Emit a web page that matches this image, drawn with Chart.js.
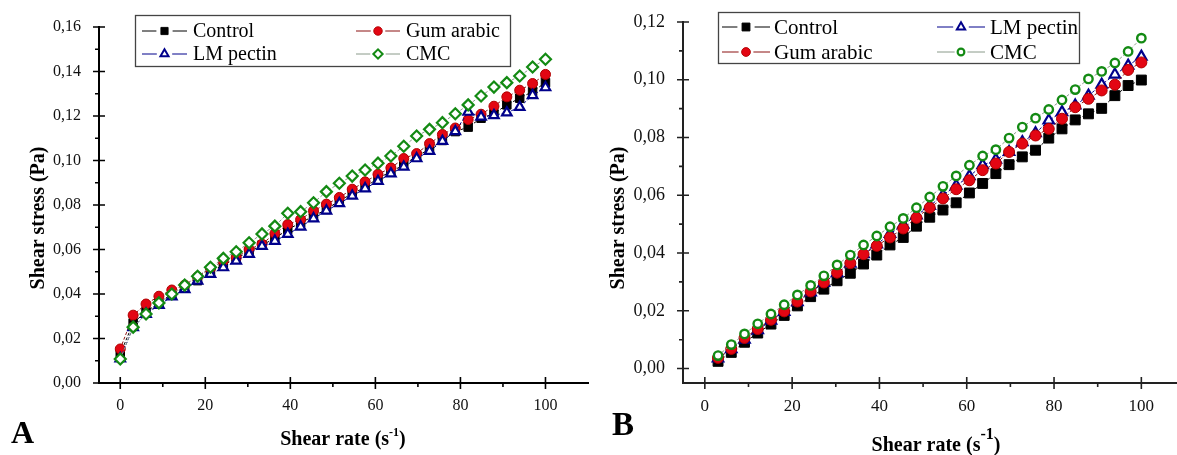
<!DOCTYPE html>
<html>
<head>
<meta charset="utf-8">
<script src="https://cdn.jsdelivr.net/npm/chart.js@4.4.1/dist/chart.umd.min.js"></script>
<style>
  html, body { margin: 0; padding: 0; background: #fff; }
  #wrap { position: relative; width: 1177px; height: 455px; overflow: hidden; }
  canvas { position: absolute; top: 0; }
  #chartA { left: 0; }
  #chartB { left: 590px; }
</style>
</head>
<body>
<div id="wrap">
  <canvas id="chartA" width="600" height="455"></canvas>
  <canvas id="chartB" width="615" height="455"></canvas>
</div>
<script>
// Panel A: shear rate (s-1) vs shear stress (Pa)
const shearRateA = [0, 3.03, 6.06, 9.09, 12.12, 15.15, 18.18, 21.21, 24.24, 27.27, 30.3, 33.33,
    36.36, 39.39, 42.42, 45.45, 48.48, 51.52, 54.55, 57.58, 60.61, 63.64, 66.67, 69.7, 72.73,
    75.76, 78.79, 81.82, 84.85, 87.88, 90.91, 93.94, 96.97, 100];
const controlA = [0.013, 0.027, 0.032, 0.036, 0.040, 0.043, 0.046, 0.050, 0.053, 0.056, 0.059,
    0.062, 0.065, 0.069, 0.072, 0.075, 0.078, 0.082, 0.085, 0.088, 0.092, 0.095, 0.098, 0.102,
    0.105, 0.109, 0.113, 0.115, 0.119, 0.121, 0.125, 0.128, 0.131, 0.135];
const gumArabicA = [0.0153, 0.0305, 0.0355, 0.039, 0.0418, 0.044, 0.0477, 0.0515, 0.0549, 0.0564,
    0.0601, 0.0624, 0.0672, 0.0712, 0.0735, 0.0774, 0.0804, 0.0834, 0.0871, 0.0904, 0.0938, 0.0967,
    0.1009, 0.1031, 0.1076, 0.1117, 0.1146, 0.1184, 0.1208, 0.1244, 0.1286, 0.1316, 0.1346, 0.1387];
const lmPectinA = [0.011, 0.025, 0.031, 0.035, 0.0388, 0.0421, 0.0459, 0.0489, 0.0519, 0.0549,
    0.0579, 0.0615, 0.0638, 0.0669, 0.0702, 0.0739, 0.0774, 0.0807, 0.0841, 0.0874, 0.0907, 0.0941,
    0.0971, 0.1009, 0.1042, 0.1087, 0.1131, 0.1218, 0.1196, 0.1203, 0.1215, 0.124, 0.1293, 0.1328];
const cmcA = [0.0108, 0.0251, 0.031, 0.036, 0.040, 0.044, 0.048, 0.052, 0.056, 0.059, 0.063,
    0.067, 0.0705, 0.0763, 0.077, 0.081, 0.086, 0.0898, 0.093, 0.0957, 0.0988, 0.102, 0.1064,
    0.111, 0.114, 0.117, 0.121, 0.125, 0.129, 0.133, 0.135, 0.138, 0.142, 0.1455];

// Panel B
const shearRateB = [3.03, 6.06, 9.09, 12.12, 15.15, 18.18, 21.21, 24.24, 27.27, 30.3, 33.33,
    36.36, 39.39, 42.42, 45.45, 48.48, 51.52, 54.55, 57.58, 60.61, 63.64, 66.67, 69.7, 72.73,
    75.76, 78.79, 81.82, 84.85, 87.88, 90.91, 93.94, 96.97, 100];
const controlB = [0.0025, 0.0056, 0.0091, 0.0123, 0.0154, 0.0184, 0.0217, 0.0249, 0.0275, 0.0304,
    0.0330, 0.0362, 0.0393, 0.0428, 0.0454, 0.0493, 0.0524, 0.0549, 0.0574, 0.0608, 0.0641, 0.0675,
    0.0706, 0.0733, 0.0756, 0.0798, 0.0830, 0.0861, 0.0882, 0.0901, 0.0945, 0.0980, 0.0999];
const lmPectinB = [0.0035, 0.0067, 0.0100, 0.0133, 0.0166, 0.0196, 0.0230, 0.0264, 0.0297, 0.0330,
    0.0363, 0.0396, 0.0430, 0.0466, 0.0498, 0.0530, 0.0563, 0.0600, 0.0633, 0.0666, 0.0704, 0.0723,
    0.0750, 0.0784, 0.0815, 0.0859, 0.0888, 0.0911, 0.0945, 0.0983, 0.1018, 0.1049, 0.1080];
const gumArabicB = [0.0037, 0.0068, 0.0106, 0.0137, 0.0169, 0.0198, 0.0232, 0.0267, 0.0298, 0.0332,
    0.0365, 0.0396, 0.0425, 0.0454, 0.0485, 0.0522, 0.0557, 0.0589, 0.0621, 0.0652, 0.0687, 0.0710,
    0.0750, 0.0779, 0.0807, 0.0830, 0.0865, 0.0905, 0.0934, 0.0963, 0.0983, 0.1034, 0.1060];
const cmcB = [0.0045, 0.0083, 0.0120, 0.0155, 0.0189, 0.0221, 0.0255, 0.0288, 0.0321, 0.0359,
    0.0393, 0.0428, 0.0459, 0.0491, 0.0520, 0.0557, 0.0594, 0.0631, 0.0667, 0.0704, 0.0736, 0.0758,
    0.0798, 0.0836, 0.0867, 0.0897, 0.0930, 0.0966, 0.1003, 0.1029, 0.1058, 0.1098, 0.1144];

// axis ticks
const xTicks = [0, 20, 40, 60, 80, 100];
const xMinorTicks = [10, 30, 50, 70, 90];
const yTicksA = [0, 0.02, 0.04, 0.06, 0.08, 0.10, 0.12, 0.14, 0.16];
const yMinorA = [0.01, 0.03, 0.05, 0.07, 0.09, 0.11, 0.13, 0.15];
const yTicksB = [0, 0.02, 0.04, 0.06, 0.08, 0.10, 0.12];
const yMinorB = [0.01, 0.03, 0.05, 0.07, 0.09, 0.11];

const serif = "'Liberation Serif', 'Times New Roman', serif";
Chart.defaults.font.family = serif;
Chart.defaults.color = '#000';

function toPoints(xs, ys) {
    return xs.map((x, i) => ({ x: x, y: ys[i] }));
}

function commaLabel(v) {
    return v.toFixed(2).replace('.', ',');
}

function makeDataset(label, xs, ys, s) {
    return {
        label: label,
        data: toPoints(xs, ys),
        showLine: true,
        borderColor: s.line,
        borderWidth: 1,
        borderDash: [3, 2],
        pointStyle: s.shape,
        pointRadius: s.r,
        pointBackgroundColor: s.fill,
        pointBorderColor: s.edge,
        pointBorderWidth: s.bw,
        order: s.order
    };
}

// marker helper for the legend box
function drawMarker(ctx, shape, r, x, y) {
    ctx.beginPath();
    if (shape === 'rect') {
        const h = r * Math.SQRT1_2;
        ctx.rect(x - h, y - h, 2 * h, 2 * h);
    } else if (shape === 'circle') {
        ctx.arc(x, y, r, 0, Math.PI * 2);
    } else if (shape === 'triangle') {
        ctx.moveTo(x, y - r);
        ctx.lineTo(x + r * 0.866, y + r / 2);
        ctx.lineTo(x - r * 0.866, y + r / 2);
        ctx.closePath();
    } else if (shape === 'rectRot') {
        ctx.moveTo(x - r, y);
        ctx.lineTo(x, y - r);
        ctx.lineTo(x + r, y);
        ctx.lineTo(x, y + r);
        ctx.closePath();
    }
    ctx.fill();
    ctx.stroke();
}

const boxLegend = {
    id: 'boxLegend',
    afterDraw(chart, args, o) {
        const ctx = chart.ctx;
        ctx.save();
        ctx.strokeStyle = '#444';
        ctx.lineWidth = 1.3;
        ctx.strokeRect(o.box[0] + 0.5, o.box[1] + 0.5, o.box[2], o.box[3]);
        o.items.forEach(it => {
            const ds = chart.data.datasets[it.index];
            const mid = (it.x0 + it.x1) / 2;
            const r = ds.pointRadius * o.scale;
            ctx.setLineDash([]);
            ctx.strokeStyle = ds.borderColor;
            ctx.lineWidth = 1;
            ctx.beginPath();
            ctx.moveTo(it.x0, it.y);
            ctx.lineTo(mid - r - 3, it.y);
            ctx.moveTo(mid + r + 3, it.y);
            ctx.lineTo(it.x1, it.y);
            ctx.stroke();
            ctx.fillStyle = ds.pointBackgroundColor;
            ctx.strokeStyle = ds.pointBorderColor;
            ctx.lineWidth = ds.pointBorderWidth * 0.9;
            drawMarker(ctx, ds.pointStyle, r, mid, it.y);
            ctx.fillStyle = '#000';
            ctx.font = o.font;
            ctx.textBaseline = 'middle';
            ctx.textAlign = 'left';
            ctx.fillText(ds.label, it.tx, it.y + 1);
        });
        ctx.restore();
    }
};

const axisMarks = {
    id: 'axisMarks',
    afterDraw(chart, args, o) {
        const ctx = chart.ctx;
        const area = chart.chartArea;
        const sx = chart.scales.x, sy = chart.scales.y;
        ctx.save();
        ctx.strokeStyle = o.color;
        ctx.lineWidth = 1.6;
        ctx.beginPath();
        sx.ticks.forEach(t => {
            const px = sx.getPixelForValue(t.value);
            ctx.moveTo(px, area.bottom - o.major);
            ctx.lineTo(px, area.bottom + o.major);
        });
        o.xMinor.forEach(v => {
            const px = sx.getPixelForValue(v);
            ctx.moveTo(px, area.bottom);
            ctx.lineTo(px, area.bottom + o.minor);
        });
        sy.ticks.forEach(t => {
            const py = sy.getPixelForValue(t.value);
            ctx.moveTo(area.left - o.major, py);
            ctx.lineTo(area.left + o.major, py);
        });
        o.yMinor.forEach(v => {
            const py = sy.getPixelForValue(v);
            ctx.moveTo(area.left - o.minor, py);
            ctx.lineTo(area.left, py);
        });
        ctx.stroke();
        ctx.restore();
    }
};

const figureText = {
    id: 'figureText',
    afterDraw(chart, args, o) {
        const ctx = chart.ctx;
        ctx.save();
        ctx.fillStyle = '#000';
        // y title
        ctx.save();
        ctx.font = o.titleFont;
        ctx.translate(o.yTitle.x, o.yTitle.y);
        ctx.rotate(-Math.PI / 2);
        ctx.textAlign = 'center';
        ctx.textBaseline = 'middle';
        ctx.fillText(o.yTitle.text, 0, 0);
        ctx.restore();
        // x title with superscript
        const t = o.xTitle;
        ctx.textBaseline = 'alphabetic';
        ctx.textAlign = 'left';
        ctx.font = o.titleFont;
        const w1 = ctx.measureText(t.text).width;
        const w3 = ctx.measureText(t.tail).width;
        ctx.font = t.supFont;
        const w2 = ctx.measureText(t.sup).width;
        let x = t.x - (w1 + w2 + w3) / 2;
        ctx.font = o.titleFont;
        ctx.fillText(t.text, x, t.y);
        x += w1;
        ctx.font = t.supFont;
        ctx.fillText(t.sup, x, t.y - t.rise);
        x += w2;
        ctx.font = o.titleFont;
        ctx.fillText(t.tail, x, t.y);
        // panel letter
        ctx.font = o.letter.font;
        ctx.fillText(o.letter.text, o.letter.x, o.letter.y);
        ctx.restore();
    }
};

function makeChart(id, datasets, cfg) {
    return new Chart(document.getElementById(id), {
        type: 'scatter',
        data: { datasets: datasets },
        options: {
            responsive: false,
            animation: false,
            layout: { padding: cfg.padding },
            scales: {
                x: {
                    type: 'linear',
                    min: -5,
                    max: 110,
                    grid: { display: false },
                    border: { display: true, color: cfg.axisColor, width: 2 },
                    afterBuildTicks: s => { s.ticks = xTicks.map(v => ({ value: v })); },
                    afterFit: s => { s.height = cfg.xHeight; },
                    ticks: {
                        autoSkip: false,
                        maxRotation: 0,
                        padding: cfg.xPad,
                        font: { size: cfg.xFont },
                        color: '#111',
                        callback: v => String(v)
                    }
                },
                y: {
                    type: 'linear',
                    min: cfg.yMin,
                    max: cfg.yMax,
                    grid: { display: false },
                    border: { display: true, color: cfg.axisColor, width: 2 },
                    afterBuildTicks: s => { s.ticks = cfg.yTicks.map(v => ({ value: v })); },
                    afterFit: s => { s.width = cfg.yWidth; },
                    ticks: {
                        autoSkip: false,
                        padding: 10,
                        font: { size: cfg.yFont },
                        color: '#111',
                        callback: v => commaLabel(v)
                    }
                }
            },
            plugins: {
                legend: { display: false },
                tooltip: { enabled: false },
                boxLegend: cfg.legend,
                axisMarks: { color: cfg.axisColor, major: 6, minor: 4, xMinor: xMinorTicks, yMinor: cfg.yMinor },
                figureText: cfg.text
            }
        },
        plugins: [axisMarks, boxLegend, figureText]
    });
}

// marker styles
const styleA = {
    control: { line: '#000', shape: 'rect', r: 6, fill: '#000', edge: '#000', bw: 1, order: 4 },
    gum: { line: '#8b1010', shape: 'circle', r: 5, fill: '#e30613', edge: '#b00000', bw: 1, order: 3 },
    lm: { line: '#00008b', shape: 'triangle', r: 5.5, fill: '#fff', edge: '#00008b', bw: 2.2, order: 2 },
    cmc: { line: '#8a9a8a', shape: 'rectRot', r: 5.5, fill: '#fff', edge: '#138a13', bw: 2.2, order: 1 }
};
const styleB = {
    control: { line: '#000', shape: 'rect', r: 7, fill: '#000', edge: '#000', bw: 1, order: 4 },
    lm: { line: '#00008b', shape: 'triangle', r: 6, fill: '#fff', edge: '#00008b', bw: 2.2, order: 3 },
    gum: { line: '#8b1010', shape: 'circle', r: 5.5, fill: '#e30613', edge: '#b00000', bw: 1, order: 2 },
    cmc: { line: '#8a9a8a', shape: 'circle', r: 4.2, fill: '#fff', edge: '#138a13', bw: 2.4, order: 1 }
};

makeChart('chartA', [
    makeDataset('Control', shearRateA, controlA, styleA.control),
    makeDataset('Gum arabic', shearRateA, gumArabicA, styleA.gum),
    makeDataset('LM pectin', shearRateA, lmPectinA, styleA.lm),
    makeDataset('CMC', shearRateA, cmcA, styleA.cmc)
], {
    padding: { left: 0, right: 12, top: 27, bottom: 0 },
    yWidth: 99, xHeight: 72, xPad: 5, xFont: 16, yFont: 16,
    yMin: 0, yMax: 0.16, yTicks: yTicksA, yMinor: yMinorA,
    axisColor: '#000',
    legend: {
        box: [135, 15, 375, 51], font: '20px ' + serif, scale: 0.85,
        items: [
            { index: 0, x0: 142, x1: 187, y: 31, tx: 193 },
            { index: 1, x0: 356, x1: 400, y: 31, tx: 406 },
            { index: 2, x0: 142, x1: 187, y: 54, tx: 193 },
            { index: 3, x0: 356, x1: 400, y: 54, tx: 406 }
        ]
    },
    text: {
        titleFont: 'bold 20px ' + serif,
        yTitle: { text: 'Shear stress (Pa)', x: 39, y: 218 },
        xTitle: { text: 'Shear rate (s', sup: '-1', tail: ')', x: 343, y: 445, supFont: 'bold 12px ' + serif, rise: 9 },
        letter: { text: 'A', x: 11, y: 443, font: 'bold 32px ' + serif }
    }
});

makeChart('chartB', [
    makeDataset('Control', shearRateB, controlB, styleB.control),
    makeDataset('LM pectin', shearRateB, lmPectinB, styleB.lm),
    makeDataset('Gum arabic', shearRateB, gumArabicB, styleB.gum),
    makeDataset('CMC', shearRateB, cmcB, styleB.cmc)
], {
    padding: { left: 0, right: 20, top: 22, bottom: 0 },
    yWidth: 93, xHeight: 72, xPad: 5, xFont: 17, yFont: 18,
    yMin: -0.005, yMax: 0.12, yTicks: yTicksB, yMinor: yMinorB,
    axisColor: '#222',
    legend: {
        box: [128, 12, 361, 51], font: '21px ' + serif, scale: 0.8,
        items: [
            { index: 0, x0: 132, x1: 180, y: 27, tx: 184 },
            { index: 2, x0: 132, x1: 180, y: 52, tx: 184 },
            { index: 1, x0: 347, x1: 395, y: 27, tx: 400 },
            { index: 3, x0: 347, x1: 395, y: 52, tx: 400 }
        ]
    },
    text: {
        titleFont: 'bold 20px ' + serif,
        yTitle: { text: 'Shear stress (Pa)', x: 29, y: 218 },
        xTitle: { text: 'Shear rate (s', sup: '-1', tail: ')', x: 346, y: 451, supFont: 'bold 16px ' + serif, rise: 12 },
        letter: { text: 'B', x: 22, y: 435, font: 'bold 33px ' + serif }
    }
});
</script>
</body>
</html>
